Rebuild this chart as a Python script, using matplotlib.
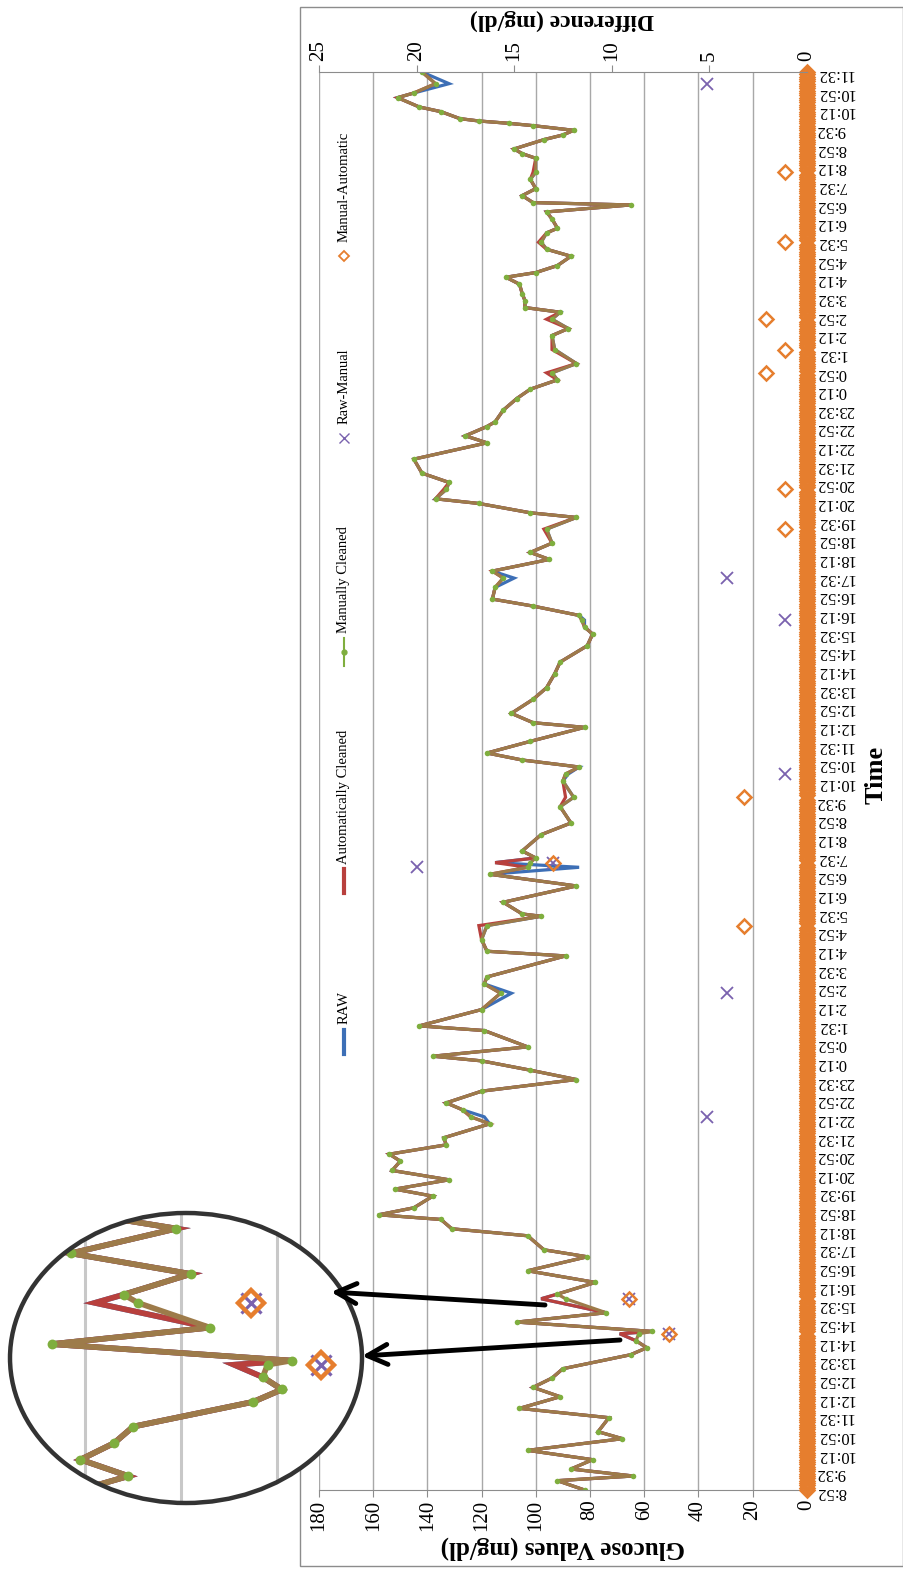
import numpy as np
import matplotlib.pyplot as plt
from matplotlib.patches import Ellipse, Rectangle, FancyArrowPatch
from matplotlib.lines import Line2D

plt.rcParams['font.family'] = ['Liberation Serif', 'DejaVu Serif']

# minutes after the first reading (8:52) and manually cleaned glucose (mg/dl)
minutes = [0, 20, 30, 45, 65, 85, 110, 125, 155, 175, 200, 220, 240, 260, 290, 305,
           320, 335, 340, 360, 380, 410, 420, 445, 470, 500, 515, 545, 560, 580, 590,
           605, 630, 645, 665, 685, 705, 720, 740, 755, 785, 800, 815, 830, 855, 880,
           900, 920, 930, 950, 985, 995, 1030, 1065, 1085, 1100, 1145, 1155, 1180,
           1210, 1230, 1235, 1260, 1295, 1320, 1335, 1345, 1355, 1370, 1405, 1430,
           1465, 1485, 1520, 1535, 1550, 1565, 1580, 1605, 1635, 1645, 1665, 1695,
           1720, 1750, 1775, 1810, 1835, 1850, 1865, 1875, 1895, 1910, 1935, 1955,
           1970, 1995, 2010, 2030, 2060, 2085, 2095, 2115, 2125, 2145, 2160, 2180,
           2210, 2245, 2260, 2280, 2290, 2315, 2340, 2360, 2380, 2395, 2415, 2445,
           2475, 2490, 2510, 2525, 2535, 2550, 2565, 2585, 2600, 2610, 2625, 2645,
           2660, 2675, 2695, 2705, 2725, 2740, 2755, 2760, 2775, 2790, 2810, 2825,
           2855, 2865, 2875, 2895, 2905, 2915, 2925, 2930, 2935, 2940, 2955, 2965,
           2985, 2995, 3015, 3040]
manual = [82, 92, 64, 87, 79, 103, 68, 77, 73, 106, 91, 101, 94, 90, 65, 59,
          63, 62, 57, 107, 74, 89, 92, 78, 103, 81, 97, 103, 131, 135, 158,
          145, 138, 152, 132, 153, 150, 154, 133, 134, 117, 124, 127, 133, 120, 85,
          102, 120, 138, 103, 119, 143, 120, 113, 119, 118, 89, 118, 120,
          118, 98, 105, 112, 85, 117, 103, 102, 100, 105, 98, 87,
          91, 86, 90, 89, 84, 105, 118, 102, 82, 101, 109, 101,
          96, 93, 91, 81, 79, 82, 83, 84, 101, 116, 115, 112,
          116, 95, 102, 94, 96, 85, 102, 121, 137, 133, 132, 142,
          145, 118, 126, 118, 115, 112, 107, 102, 92, 94, 85, 93,
          94, 88, 94, 91, 104, 104, 105, 106, 111, 100, 92, 87,
          96, 98, 96, 92, 94, 96, 65, 101, 105, 100, 102, 100,
          100, 105, 108, 97, 90, 86, 101, 110, 121, 128, 135, 143,
          151, 145, 137, 142]

# readings where the raw and automatically cleaned series differ from the manual one
raw_spike_minutes = [335, 410, 800, 1065, 1335, 1345, 1535, 1865, 1955, 3015]
raw_spike_values = [69, 98, 119, 109, 84, 115, 88, 82, 108, 132]
auto_spike_minutes = [335, 410, 1210, 1345, 1485, 2060, 2145, 2395, 2445, 2510, 2675, 2825]
auto_spike_values = [69, 98, 121, 115, 89, 97, 134, 96, 94, 96, 99, 101]

# difference series (mg/dl), non-zero points
rm_minutes = [335, 410, 800, 1065, 1335, 1345, 1535, 1865, 1955, 3015]
rm_values = [7.05, 9.1, 5.1, 4.1, 20.0, 13.0, 1.1, 1.1, 4.1, 5.1]
ma_minutes = [335, 410, 1210, 1345, 1485, 2060, 2145, 2395, 2445, 2510, 2675, 2825]
ma_values = [7.05, 9.1, 3.2, 13.0, 3.2, 1.1, 1.1, 2.1, 1.1, 2.1, 1.1, 1.1]
sample_minutes = np.arange(0, 3045, 5)   # Manual-Automatic is 0 at every other reading

start_label = (8, 52)
label_step = 40
label_minutes = list(range(0, 3041, label_step))
time_labels = []
for m in label_minutes:
    c = (start_label[0] * 60 + start_label[1] + m) % 1440
    time_labels.append(f"{c // 60}:{c % 60:02d}")

raw = dict(zip(minutes, manual))
raw.update(zip(raw_spike_minutes, raw_spike_values))
auto = dict(zip(minutes, manual))
auto.update(zip(auto_spike_minutes, auto_spike_values))
raw = [raw[m] for m in minutes]
auto = [auto[m] for m in minutes]
ma_zero = [m for m in sample_minutes if m not in ma_minutes]

c_raw = '#3d6fb6'
c_auto = '#b8403d'
c_man = '#7fae3e'
c_man_line = '#9d7b4a'
c_rm = '#7a62ae'
c_ma = '#e67e2e'
grid_c = '#a8a8a8'

W, H = 904, 1572
def fx(px):
    return px / W
def fy(py):
    return 1 - py / H

fig = plt.figure(figsize=(W / 100, H / 100), dpi=100)

fig.add_artist(Rectangle((fx(300), fy(1566)), fx(903) - fx(300), fy(7) - fy(1566),
                         transform=fig.transFigure, fill=False, ec='#8c8c8c', lw=1, zorder=-1))

ax = fig.add_axes([fx(319), fy(1490), fx(806.7) - fx(319), fy(72) - fy(1490)])
ax.set_xlim(180, 0)
ax.set_ylim(0, 3040)
ax.set_xticks(range(0, 181, 20))
ax.tick_params(axis='x', labelrotation=90, labelsize=15, length=5, color='#8c8c8c', pad=2)
ax.xaxis.grid(True, color=grid_c, lw=1)
ax.set_axisbelow(True)
ax.yaxis.tick_right()
ax.set_yticks(label_minutes)
ax.set_yticklabels(time_labels, rotation=180, fontsize=12)
ax.tick_params(axis='y', length=0, pad=7)
for s in ['left', 'right', 'top']:
    ax.spines[s].set_visible(False)
ax.spines['bottom'].set_color('#8c8c8c')


def draw_series(a, lw, ms):
    arts = []
    arts += a.plot(raw, minutes, color=c_raw, lw=lw, solid_joinstyle='miter')
    arts += a.plot(auto, minutes, color=c_auto, lw=lw, solid_joinstyle='miter')
    arts += a.plot(manual, minutes, color=c_man_line, lw=lw)
    arts += a.plot(manual, minutes, ls='none', marker='o', ms=ms, color=c_man, mec='none')
    return arts


draw_series(ax, 2.3, 4)

ax2 = ax.twiny()
ax2.set_xlim(25, 0)
ax2.set_xticks(range(0, 26, 5))
ax2.tick_params(axis='x', labelrotation=90, labelsize=15, length=5, color='#8c8c8c', pad=3)
for s in ['left', 'right', 'bottom']:
    ax2.spines[s].set_visible(False)
ax2.spines['top'].set_color('#8c8c8c')
ax2.plot(rm_values, rm_minutes, ls='none', marker='x', ms=8, mew=1.3, color=c_rm, clip_on=False)
ax2.plot(np.zeros(len(ma_zero)), ma_zero, ls='none', marker='D', ms=7.5, mfc='none',
         mec=c_ma, mew=1.8, clip_on=False)
ax2.plot(ma_values, ma_minutes, ls='none', marker='D', ms=7.5, mfc='none',
         mec=c_ma, mew=1.8, clip_on=False)

fig.text(fx(563), fy(1548), 'Glucose Values (mg/dl)', rotation=180, ha='center',
         va='center', fontsize=18, fontweight='bold')
fig.text(fx(562), fy(20), 'Difference (mg/dl)', rotation=180, ha='center',
         va='center', fontsize=17, fontweight='bold')
fig.text(fx(876), fy(775), 'Time', rotation=90, ha='center', va='center',
         fontsize=19, fontweight='bold')

# legend (drawn rotated like the rest of the chart)
lx = fx(344)
fig.add_artist(Line2D([lx, lx], [fy(1054), fy(1030)], color=c_raw, lw=3))
fig.text(lx, fy(1024), 'RAW', rotation=90, ha='center', va='bottom', fontsize=10.5)
fig.add_artist(Line2D([lx, lx], [fy(893), fy(869)], color=c_auto, lw=3))
fig.text(lx, fy(864), 'Automatically Cleaned', rotation=90, ha='center', va='bottom', fontsize=10.5)
fig.add_artist(Line2D([lx, lx], [fy(666), fy(638)], color=c_man, lw=1.5))
fig.add_artist(Line2D([lx], [fy(652)], ls='none', marker='o', ms=3.5, color=c_man))
fig.text(lx, fy(633), 'Manually Cleaned', rotation=90, ha='center', va='bottom', fontsize=10.5)
fig.add_artist(Line2D([lx], [fy(438)], ls='none', marker='x', ms=7, mew=1, color=c_rm))
fig.text(lx, fy(424), 'Raw-Manual', rotation=90, ha='center', va='bottom', fontsize=10.5)
fig.add_artist(Line2D([lx], [fy(256)], ls='none', marker='D', ms=5, mfc='none', mec=c_ma, mew=1.3))
fig.text(lx, fy(242), 'Manual-Automatic', rotation=90, ha='center', va='bottom', fontsize=10.5)

# magnified inset
zoom = 1.77
axi = fig.add_axes([fx(10), fy(1503), fx(362) - fx(10), fy(1213) - fy(1503)], zorder=5)
axi.set_axis_off()
axi.set_xlim(115.7, 42.3)
axi.set_ylim(167.4, 518.9)
bg = Ellipse((0.5, 0.5), 1, 1, transform=axi.transAxes, fc='white', ec='none', zorder=0)
axi.add_patch(bg)
clip = Ellipse((0.5, 0.5), 1, 1, transform=axi.transAxes, fc='none', ec='none')
axi.add_patch(clip)
arts = [axi.axvline(g, color='#c8c8c8', lw=2.2, zorder=1) for g in (100, 80, 60)]
arts += draw_series(axi, 2.3 * zoom, 4 * zoom)
arts += axi.plot(np.array(rm_values) * 180 / 25, rm_minutes, ls='none', marker='x',
                 ms=8 * zoom, mew=1.3 * zoom, color=c_rm)
arts += axi.plot(np.array(ma_values) * 180 / 25, ma_minutes, ls='none', marker='D',
                 ms=7.5 * zoom, mfc='none', mec=c_ma, mew=1.8 * zoom)
for a in arts:
    a.set_clip_path(clip)
axi.add_patch(Ellipse((0.5, 0.5), 1, 1, transform=axi.transAxes, fc='none',
                      ec='#333333', lw=3.2, zorder=10, clip_on=False))

for (x0, y0), (x1, y1) in [((545, 1305), (331, 1292)), ((620, 1340), (362, 1356))]:
    fig.add_artist(FancyArrowPatch((fx(x0), fy(y0)), (fx(x1), fy(y1)),
                                   transform=fig.transFigure, arrowstyle='->',
                                   mutation_scale=36, lw=3.5, color='black',
                                   shrinkA=0, shrinkB=0, zorder=20))

fig.savefig('out.png', dpi=100)
